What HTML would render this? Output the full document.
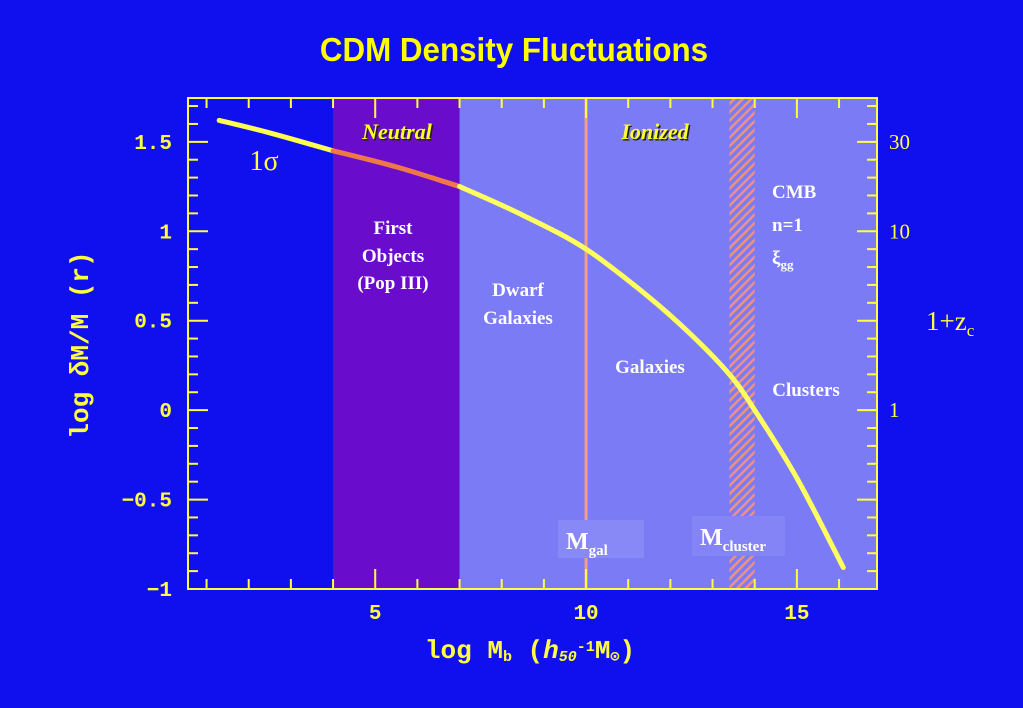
<!DOCTYPE html>
<html><head><meta charset="utf-8"><style>
body{margin:0;background:#1010ee;width:1023px;height:708px;overflow:hidden}
svg{display:block}
</style></head><body>
<svg width="1023" height="708" font-family="Liberation Serif, serif">
<rect x="0" y="0" width="1023" height="708" fill="#1010ee"/>
<text x="514" y="61" text-anchor="middle" fill="#ffff00" font-family="Liberation Sans Narrow, Liberation Sans, sans-serif" font-weight="bold" font-size="33" transform="translate(514,0) scale(0.95,1) translate(-514,0)">CDM Density Fluctuations</text>
<g id="plot"></g>
</svg>
<script>
const regionBounds=[0.56,4,7,16.9];
const curveX=[1.3,2.5,4,5.5,7,8.5,10,11.5,12.5,13.4,14,15,16.1];
const curveY=[1.62,1.55,1.45,1.36,1.25,1.09,0.9,0.63,0.42,0.2,0.0,-0.38,-0.88];
const xTicks=[5,10,15];
const yTicks=[1.5,1,0.5,0,-0.5,-1];
const yTickLabels=["1.5","1","0.5","0","\u22120.5","\u22121"];
const zTicks=[[1.5,"30"],[1,"10"],[0,"1"]];
const X0=188,X1=877,Y0=98,Y1=589,xmin=0.56,xmax=16.9,ymin=-1,ymax=1.745;
const sx=v=>X0+(v-xmin)/(xmax-xmin)*(X1-X0);
const sy=v=>Y1-(v-ymin)/(ymax-ymin)*(Y1-Y0);
const NS='http://www.w3.org/2000/svg';
const g=document.getElementById('plot');
function el(t,a,txt){const e=document.createElementNS(NS,t);for(const k in a)e.setAttribute(k,a[k]);if(txt!==undefined)e.textContent=txt;g.appendChild(e);return e;}
let e;
e=el('rect',{x:sx(regionBounds[1]),y:Y0,width:sx(regionBounds[2])-sx(regionBounds[1]),height:Y1-Y0,fill:'#6a0ccc'});


e=el('rect',{x:sx(regionBounds[2]),y:Y0,width:X1-sx(regionBounds[2]),height:Y1-Y0,fill:'#7b7bf6'});


const defs=document.createElementNS(NS,'defs');defs.innerHTML='<pattern id="h" width="6" height="6" patternUnits="userSpaceOnUse" patternTransform="rotate(45)"><rect width="6" height="6" fill="#7b7bf6"/><rect width="2.5" height="6" fill="#f09080"/></pattern>';g.appendChild(defs);
e=el('rect',{x:sx(13.4),y:Y0,width:sx(14)-sx(13.4),height:Y1-Y0,fill:'url(#h)'});


e=el('line',{x1:sx(10),x2:sx(10),y1:Y0,y2:Y1,stroke:'#f0a080','stroke-width':3});


// smooth curve
function smoothPath(pts){let d='M'+pts[0][0].toFixed(1)+','+pts[0][1].toFixed(1);
for(let i=0;i<pts.length-1;i++){const p0=pts[Math.max(0,i-1)],p1=pts[i],p2=pts[i+1],p3=pts[Math.min(pts.length-1,i+2)];
const c1=[p1[0]+(p2[0]-p0[0])/6,p1[1]+(p2[1]-p0[1])/6],c2=[p2[0]-(p3[0]-p1[0])/6,p2[1]-(p3[1]-p1[1])/6];
d+=' C'+c1.map(v=>v.toFixed(1))+' '+c2.map(v=>v.toFixed(1))+' '+p2[0].toFixed(1)+','+p2[1].toFixed(1);}return d;}
function seg(filter,color,name){const pts=curveX.map((x,i)=>[x,curveY[i]]).filter(filter).map(p=>[sx(p[0]),sy(p[1])]);
const p=el('path',{d:smoothPath(pts),fill:'none',stroke:color,'stroke-width':5,'stroke-linecap':'round'});}
seg(p=>p[0]<=4,'#ffff50','sigma-curve-left');
seg(p=>p[0]>=4&&p[0]<=7,'#f07848','sigma-curve-neutral');
seg(p=>p[0]>=7,'#ffff60','sigma-curve-right');
e=el('rect',{x:X0,y:Y0,width:X1-X0,height:Y1-Y0,fill:'none',stroke:'#ffff40','stroke-width':2});


for(let v=1;v<=16;v++){const L=v%5==0?20:10;el('line',{x1:sx(v),x2:sx(v),y1:Y1,y2:Y1-L,stroke:'#ffff40','stroke-width':2});el('line',{x1:sx(v),x2:sx(v),y1:Y0,y2:Y0+L,stroke:'#ffff40','stroke-width':2});}
for(let i=-10;i<=17;i++){const v=i/10;const L=i%5==0?20:10;el('line',{x1:X0,x2:X0+L,y1:sy(v),y2:sy(v),stroke:'#ffff40','stroke-width':2});el('line',{x1:X1,x2:X1-L,y1:sy(v),y2:sy(v),stroke:'#ffff40','stroke-width':2});}
xTicks.forEach(v=>{const t=el('text',{x:sx(v),y:619,'text-anchor':'middle',fill:'#ffff40','font-family':'Liberation Mono, monospace','font-weight':'bold','font-size':21},String(v));});
yTicks.forEach((v,i)=>{const t=el('text',{x:172,y:sy(v)+7,'text-anchor':'end',fill:'#ffff40','font-family':'Liberation Mono, monospace','font-weight':'bold','font-size':21},yTickLabels[i]);});
zTicks.forEach(z=>{const t=el('text',{x:889,y:sy(z[0])+7,fill:'#ffff40','font-size':21},z[1]);});
e=el('text',{x:530,y:658,'text-anchor':'middle',fill:'#ffff40','font-family':'Liberation Mono, monospace','font-weight':'bold','font-size':26},'');e.innerHTML='log M<tspan font-size="15" dy="3">b</tspan><tspan dy="-3"> (</tspan><tspan font-style="italic">h</tspan><tspan font-size="15" dy="3" font-style="italic">50</tspan><tspan font-size="15" dy="-10">-1</tspan><tspan dy="7">M</tspan><tspan font-size="15" dy="3">⊙</tspan><tspan dy="-3">)</tspan>';


e=el('text',{x:88,y:345,'text-anchor':'middle',fill:'#ffff40','font-family':'Liberation Mono, monospace','font-weight':'bold','font-size':26,transform:'rotate(-90 88 345)'},'log δM/M (r)');


e=el('text',{x:926,y:330,fill:'#ffff40','font-size':27},'');e.innerHTML='1+z<tspan font-size="17" dy="6">c</tspan>';


const lab=(x,y,txt,opt,name)=>{const t=el('text',Object.assign({x:x,y:y,'text-anchor':'middle',fill:'#ffffff','font-weight':'bold','font-size':19},opt),txt);return t;};
lab(397,139,'Neutral',{fill:'#222200','font-style':'italic','font-size':22,dx:1.5,dy:1.5},'neutral-shadow');
lab(397,139,'Neutral',{fill:'#ffff30','font-style':'italic','font-size':22},'neutral-label');
lab(655,139,'Ionized',{fill:'#222200','font-style':'italic','font-size':22,dx:1.5,dy:1.5},'ionized-shadow');
lab(655,139,'Ionized',{fill:'#ffff30','font-style':'italic','font-size':22},'ionized-label');
lab(264,170,'1σ',{fill:'#ffff40','font-weight':'normal','font-size':28},'sigma-label');
lab(393,234,'First',{},'first-objects-label');lab(393,262,'Objects',{},'first-objects-label');lab(393,289,'(Pop III)',{},'first-objects-label');
lab(518,296,'Dwarf',{},'dwarf-label');lab(518,324,'Galaxies',{},'dwarf-label');
lab(650,373,'Galaxies',{},'galaxies-label');
lab(806,396,'Clusters',{},'clusters-label');
lab(792,198,'CMB',{'text-anchor':'start',x:772},'cmb-label');lab(792,231,'n=1',{'text-anchor':'start',x:772},'cmb-label');
e=lab(772,264,'',{'text-anchor':'start'},'xi-gg-label');e.innerHTML='ξ<tspan font-size="13" dy="5">gg</tspan>';
e=el('rect',{x:558,y:520,width:86,height:38,fill:'#8888f6'});
e=lab(566,549,'',{'text-anchor':'start','font-size':24},'m-gal-label');e.innerHTML='M<tspan font-size="15" dy="6">gal</tspan>';
e=el('rect',{x:692,y:516,width:93,height:40,fill:'#8484f6'});
e=lab(700,545,'',{'text-anchor':'start','font-size':24},'m-cluster-label');e.innerHTML='M<tspan font-size="15" dy="6">cluster</tspan>';
</script>
</body></html>
